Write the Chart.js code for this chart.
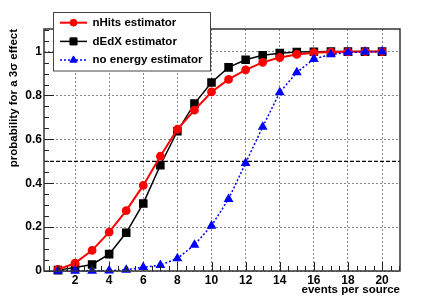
<!DOCTYPE html>
<html>
<head>
<meta charset="utf-8">
<script src="https://cdn.jsdelivr.net/npm/chart.js@4.4.0/dist/chart.umd.min.js"></script>
<style>
  html, body { margin: 0; padding: 0; background: #fff; }
  canvas { display: block; }
</style>
</head>
<body>
<canvas id="graph" width="445" height="301"></canvas>
<script>
// data
const events = [1, 2, 3, 4, 5, 6, 7, 8, 9, 10, 11, 12, 13, 14, 15, 16, 17, 18, 19, 20]
const nHits = [0.007, 0.036, 0.094, 0.177, 0.275, 0.39, 0.523, 0.646, 0.733, 0.816, 0.873, 0.917, 0.951, 0.973, 0.987, 0.995, 0.998, 0.999, 1.0, 1.0]
const dEdX = [0.004, 0.016, 0.03, 0.077, 0.174, 0.308, 0.482, 0.637, 0.763, 0.859, 0.928, 0.963, 0.983, 0.993, 0.998, 0.999, 1.0, 1.0, 1.0, 1.0]
const noEnergy = [0.001, 0.001, 0.001, 0.002, 0.005, 0.017, 0.027, 0.057, 0.119, 0.206, 0.328, 0.492, 0.657, 0.814, 0.905, 0.966, 0.987, 0.996, 0.999, 1.0]
const xTicks = [2, 4, 6, 8, 10, 12, 14, 16, 18, 20]
const yTicks = [0, 0.2, 0.4, 0.6, 0.8, 1]
const xRange = [0.18, 21.05]
const yRange = [0, 1.103]
const halfLine = 0.5

const FONT = "'Liberation Sans', Arial, Helvetica, sans-serif"
Chart.defaults.font.family = FONT
Chart.defaults.color = '#000'

function toPoints (ys) {
  return events.map((x, i) => ({ x: x, y: ys[i] }))
}

const framePlugin = {
  id: 'rootFrame',
  afterDatasetsDraw (chart) {
    const { ctx, chartArea: a, scales: { x, y } } = chart
    ctx.save()
    ctx.strokeStyle = '#222'
    ctx.lineWidth = 1
    ctx.beginPath()
    // x ticks, inside the frame
    for (let k = 1; k * 0.5 < x.max; k++) {
      const px = Math.round(x.getPixelForValue(k * 0.5)) + 0.5
      if (px <= a.left) continue
      const len = k % 4 === 0 ? 9 : 5
      ctx.moveTo(px, a.bottom)
      ctx.lineTo(px, a.bottom - len)
    }
    // y ticks
    for (let k = 0; k * 0.05 < y.max; k++) {
      const py = Math.round(y.getPixelForValue(k * 0.05)) + 0.5
      const len = k % 4 === 0 ? 10 : 5
      ctx.moveTo(a.left, py)
      ctx.lineTo(a.left + len, py)
    }
    ctx.stroke()
    ctx.strokeStyle = '#333'
    ctx.lineWidth = 1.5
    ctx.strokeRect(a.left, a.top, a.right - a.left, a.bottom - a.top)
    ctx.restore()
  }
}

const legendPlugin = {
  id: 'rootLegend',
  afterDraw (chart) {
    const { ctx } = chart
    const box = { x: 53.5, y: 12.5, w: 157, h: 58.5 }
    ctx.save()
    ctx.fillStyle = '#fff'
    ctx.fillRect(box.x, box.y, box.w, box.h)
    ctx.strokeStyle = '#444'
    ctx.lineWidth = 1
    ctx.strokeRect(box.x, box.y, box.w, box.h)

    const entries = chart.data.datasets.filter(ds => ds.inLegend)
    entries.forEach((ds, i) => {
      const cy = 22.7 + i * 18.7
      ctx.strokeStyle = ds.borderColor
      ctx.lineWidth = ds.borderWidth
      ctx.setLineDash(ds.borderDash || [])
      ctx.beginPath()
      ctx.moveTo(60, cy)
      ctx.lineTo(87, cy)
      ctx.stroke()
      ctx.setLineDash([])
      ctx.fillStyle = ds.pointBackgroundColor
      ctx.strokeStyle = ds.pointBorderColor
      ctx.lineWidth = 1
      Chart.helpers.drawPoint(ctx, {
        pointStyle: ds.pointStyle,
        radius: ds.pointRadius,
        rotation: 0,
        borderWidth: 1
      }, 73.5, cy)
      ctx.fillStyle = '#000'
      ctx.font = 'bold 11.5px ' + FONT
      ctx.textBaseline = 'middle'
      ctx.textAlign = 'left'
      ctx.fillText(ds.label, 92.5, cy)
    })
    ctx.restore()
  }
}

const chart = new Chart('graph', {
  type: 'line',
  data: {
    datasets: [
      {
        label: 'nHits estimator',
        inLegend: true,
        data: toPoints(nHits),
        borderColor: '#ff0000',
        borderWidth: 2,
        pointStyle: 'circle',
        pointRadius: 3.4,
        pointBackgroundColor: '#ff0000',
        pointBorderColor: '#ff0000',
        order: 1
      },
      {
        label: 'dEdX estimator',
        inLegend: true,
        data: toPoints(dEdX),
        borderColor: '#000000',
        borderWidth: 1.5,
        pointStyle: 'rect',
        pointRadius: 5,
        pointBackgroundColor: '#000000',
        pointBorderColor: '#000000',
        order: 2
      },
      {
        label: 'no energy estimator',
        inLegend: true,
        data: toPoints(noEnergy),
        borderColor: '#0000ff',
        borderWidth: 1.5,
        borderDash: [2, 2],
        pointStyle: 'triangle',
        pointRadius: 4.2,
        pointBackgroundColor: '#0000ff',
        pointBorderColor: '#0000ff',
        order: 0
      },
      {
        label: 'half',
        inLegend: false,
        data: [{ x: xRange[0], y: halfLine }, { x: xRange[1], y: halfLine }],
        borderColor: '#000',
        borderWidth: 1.2,
        borderDash: [4, 2],
        pointRadius: 0,
        order: 3
      }
    ]
  },
  options: {
    responsive: false,
    animation: false,
    clip: false,
    layout: { padding: { top: 29, right: 45, left: 0, bottom: 0 } },
    elements: { line: { tension: 0 } },
    scales: {
      x: {
        type: 'linear',
        min: xRange[0],
        max: xRange[1],
        afterBuildTicks: s => { s.ticks = xTicks.map(v => ({ value: v })) },
        afterFit: s => { s.height = 30 },
        ticks: {
          autoSkip: false,
          maxRotation: 0,
          padding: 2,
          font: { size: 12, weight: 'bold' },
          callback: v => String(v)
        },
        grid: { color: '#888', lineWidth: 1, drawTicks: false },
        border: { display: false, dash: [2, 2] },
        title: {
          display: true,
          text: 'events per source',
          align: 'end',
          font: { size: 11.5, weight: 'bold' },
          padding: { top: 0, bottom: 4 }
        }
      },
      y: {
        type: 'linear',
        min: yRange[0],
        max: yRange[1],
        afterBuildTicks: s => { s.ticks = yTicks.map(v => ({ value: v })) },
        afterFit: s => { s.width = 44 },
        ticks: {
          padding: 2,
          font: { size: 12, weight: 'bold' },
          callback: v => String(v)
        },
        grid: { color: '#888', lineWidth: 1, drawTicks: false },
        border: { display: false, dash: [2, 2] },
        title: {
          display: true,
          text: 'probability for a 3σ effect',
          align: 'end',
          font: { size: 11.5, weight: 'bold' },
          padding: { top: 7, bottom: 0 }
        }
      }
    },
    plugins: {
      legend: { display: false },
      tooltip: { enabled: false }
    }
  },
  plugins: [framePlugin, legendPlugin]
})
</script>
</body>
</html>
